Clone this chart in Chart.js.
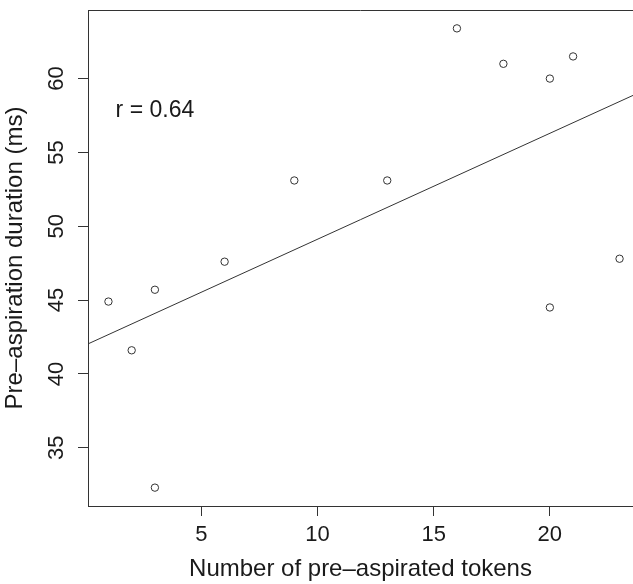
<!DOCTYPE html>
<html><head><meta charset="utf-8">
<script src="https://cdn.jsdelivr.net/npm/chart.js@4/dist/chart.umd.min.js"></script>
<style>html,body{margin:0;padding:0;background:#fff;overflow:hidden}</style>
</head><body>
<canvas id="c" width="633" height="584"></canvas>
<script>
// ---- data ----
const tokens    = [1, 2, 3, 3, 6, 9, 13, 16, 18, 20, 21, 20, 23];
const durations = [44.9, 41.6, 45.7, 32.3, 47.6, 53.1, 53.1, 63.4, 61.0, 60.0, 61.5, 44.5, 47.8];
const xTicks = [5, 10, 15, 20];
const yTicks = [35, 40, 45, 50, 55, 60];
const xLabel = 'Number of pre\u2013aspirated tokens';
const yLabel = 'Pre\u2013aspiration duration (ms)';
const rLabel = 'r = 0.64';
const rLabelAt = [3, 57.8];

// R-style axis limits (4% extension of data range)
function rRange(v){const lo=Math.min(...v),hi=Math.max(...v),d=(hi-lo)*0.04;return [lo-d,hi+d];}
const [xMin, xMaxFull] = rRange(tokens);
const [yMin, yMax] = rRange(durations);
// the reference image is cropped slightly on the right: plot box would end at 640px, image ends at 633px
const PLOT_LEFT = 88, FULL_RIGHT = 640, IMG_RIGHT = 633;
const xMax = xMin + (xMaxFull - xMin) * (IMG_RIGHT - PLOT_LEFT) / (FULL_RIGHT - PLOT_LEFT);

// least-squares fit line (abline)
const n = tokens.length;
const mx = tokens.reduce((a,b)=>a+b,0)/n, my = durations.reduce((a,b)=>a+b,0)/n;
let sxy=0, sxx=0;
for(let i=0;i<n;i++){sxy+=(tokens[i]-mx)*(durations[i]-my);sxx+=(tokens[i]-mx)**2;}
const slope = sxy/sxx, intercept = my - slope*mx;
const fitLine = [xMin, xMax].map(x=>({x, y: intercept + slope*x}));

const FONT = 'Liberation Sans, Arial, Helvetica, sans-serif';
const INK = '#1a1a1a';
const AX = '#333333';

const frame = {
  id: 'frame',
  afterDraw(chart){
    const {ctx, chartArea:a, scales} = chart;
    ctx.save();
    ctx.strokeStyle = AX; ctx.lineWidth = 1;
    ctx.beginPath();
    const t = Math.round(a.top)+0.5;
    ctx.moveTo(a.left, t); ctx.lineTo(a.right, t);
    ctx.stroke();
    ctx.fillStyle = INK;
    ctx.font = '23px ' + FONT;
    ctx.textAlign = 'center'; ctx.textBaseline = 'middle';
    ctx.fillText(rLabel, scales.x.getPixelForValue(rLabelAt[0]), scales.y.getPixelForValue(rLabelAt[1]));
    ctx.restore();
  }
};

new Chart(document.getElementById('c'), {
  data: {
    datasets: [
      { type: 'scatter', data: tokens.map((x,i)=>({x, y: durations[i]})),
        pointStyle: 'circle', pointRadius: 3.7, pointBorderWidth: 1,
        borderColor: AX, backgroundColor: 'rgba(0,0,0,0)', pointBackgroundColor: 'rgba(0,0,0,0)' },
      { type: 'line', data: fitLine, borderColor: AX, borderWidth: 1, pointRadius: 0, fill: false, tension: 0 }
    ]
  },
  options: {
    responsive: false, animation: false, devicePixelRatio: 1,
    layout: { autoPadding: false, padding: { top: 10, right: 0, left: 0, bottom: 0 } },
    plugins: { legend: { display: false }, tooltip: { enabled: false } },
    scales: {
      x: {
        type: 'linear', position: 'bottom', min: xMin, max: xMax,
        afterBuildTicks: s => { s.ticks = xTicks.map(v => ({ value: v })); },
        afterFit: s => { s.height = 78; s.paddingLeft = 0; s.paddingRight = 0; },
        grid: { display: true, drawOnChartArea: false, drawTicks: true, tickLength: 10, color: AX, lineWidth: 1 },
        border: { display: true, color: AX, width: 1 },
        ticks: { color: INK, font: { family: FONT, size: 22 }, padding: 6, maxRotation: 0, autoSkip: false },
        title: { display: true, text: xLabel, color: INK, font: { family: FONT, size: 24 }, padding: { top: 0, bottom: 0 } }
      },
      y: {
        type: 'linear', position: 'left', min: yMin, max: yMax,
        afterBuildTicks: s => { s.ticks = yTicks.map(v => ({ value: v })); },
        afterFit: s => { s.width = PLOT_LEFT; s.paddingTop = 0; s.paddingBottom = 0; },
        grid: { display: true, drawOnChartArea: false, drawTicks: true, tickLength: 10, color: AX, lineWidth: 1 },
        border: { display: true, color: AX, width: 1 },
        ticks: { color: INK, font: { family: FONT, size: 22 }, padding: 9, minRotation: 90, maxRotation: 90, crossAlign: 'center', autoSkip: false },
        title: { display: true, text: yLabel, color: INK, font: { family: FONT, size: 24 }, padding: { top: 1, bottom: 0 } }
      }
    }
  },
  plugins: [frame]
});
</script>
</body></html>
